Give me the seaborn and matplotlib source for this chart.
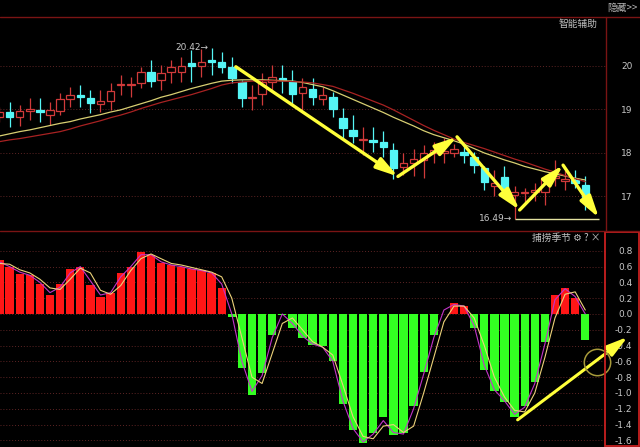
import numpy as np
import pandas as pd
import matplotlib
matplotlib.use('Agg')
import matplotlib.pyplot as plt
import seaborn as sns
from matplotlib.patches import Rectangle
from matplotlib.lines import Line2D

# candle data, one entry per trading day (index 0..58)
opens = [18.82, 18.95, 18.82, 18.97, 18.99, 18.87, 18.97, 19.23, 19.32, 19.26,
         19.12, 19.20, 19.55, 19.55, 19.60, 19.87, 19.68, 19.85, 19.87, 20.06,
         20.00, 20.14, 20.08, 19.98, 19.64, 19.26, 19.35, 19.64, 19.72, 19.66,
         19.37, 19.46, 19.24, 19.29, 18.80, 18.53, 18.30, 18.30, 18.26, 18.07,
         17.67, 17.76, 17.84, 18.00, 18.01, 18.01, 18.02, 17.90, 17.65, 17.23,
         17.44, 17.03, 17.07, 17.11, 17.11, 17.42, 17.36, 17.38, 17.26]
closes = [18.95, 18.83, 18.97, 19.01, 18.93, 18.99, 19.23, 19.33, 19.28, 19.14,
          19.20, 19.43, 19.56, 19.59, 19.86, 19.66, 19.83, 19.97, 20.00, 20.00,
          20.10, 20.09, 19.98, 19.72, 19.26, 19.29, 19.64, 19.75, 19.68, 19.35,
          19.51, 19.28, 19.33, 19.00, 18.57, 18.40, 18.32, 18.26, 18.14, 17.65,
          17.76, 17.86, 18.01, 18.07, 18.05, 18.09, 17.95, 17.72, 17.34, 17.30,
          17.15, 17.11, 17.11, 17.15, 17.42, 17.46, 17.40, 17.32, 16.88]
highs = [19.05, 19.18, 19.10, 19.26, 19.26, 19.18, 19.37, 19.52, 19.56, 19.45,
         19.45, 19.60, 19.79, 19.75, 19.98, 20.14, 20.02, 20.14, 20.21, 20.37,
         20.38, 20.42, 20.33, 20.20, 19.68, 19.56, 19.83, 20.02, 20.02, 19.91,
         19.72, 19.72, 19.52, 19.41, 19.03, 18.87, 18.60, 18.60, 18.51, 18.22,
         17.99, 18.09, 18.18, 18.26, 18.34, 18.20, 18.23, 18.03, 17.69, 17.61,
         17.69, 17.23, 17.20, 17.30, 17.49, 17.84, 17.61, 17.60, 17.46]
lows = [18.70, 18.60, 18.62, 18.76, 18.72, 18.64, 18.87, 19.06, 19.06, 18.91,
        18.95, 18.99, 19.33, 19.29, 19.49, 19.52, 19.45, 19.60, 19.62, 19.64,
        19.75, 19.80, 19.83, 19.60, 19.06, 18.99, 19.10, 19.45, 19.38, 19.10,
        18.99, 19.10, 19.10, 18.83, 18.34, 18.22, 17.95, 18.03, 17.91, 17.40,
        17.49, 17.46, 17.43, 17.76, 17.77, 17.90, 17.76, 17.53, 17.15, 17.00,
        16.96, 16.49, 16.85, 16.90, 16.80, 17.23, 17.15, 17.20, 16.69]

# moving averages
ma_short = [18.39, 18.44, 18.49, 18.53, 18.58, 18.63, 18.68, 18.72, 18.78, 18.83,
            18.88, 18.94, 18.99, 19.06, 19.13, 19.20, 19.28, 19.34, 19.41, 19.48,
            19.54, 19.60, 19.65, 19.67, 19.68, 19.68, 19.68, 19.67, 19.66, 19.65,
            19.62, 19.57, 19.52, 19.43, 19.33, 19.23, 19.13, 19.03, 18.93, 18.82,
            18.72, 18.62, 18.51, 18.42, 18.35, 18.28, 18.20, 18.10, 18.00, 17.92,
            17.84, 17.77, 17.69, 17.63, 17.57, 17.52, 17.47, 17.42, 17.38]
ma_long = [18.26, 18.30, 18.33, 18.37, 18.41, 18.45, 18.49, 18.55, 18.62, 18.68,
           18.74, 18.81, 18.87, 18.94, 19.02, 19.09, 19.16, 19.22, 19.28, 19.34,
           19.41, 19.48, 19.56, 19.61, 19.63, 19.65, 19.66, 19.66, 19.65, 19.64,
           19.63, 19.61, 19.57, 19.53, 19.45, 19.37, 19.28, 19.19, 19.10, 18.99,
           18.87, 18.75, 18.63, 18.52, 18.42, 18.32, 18.24, 18.17, 18.10, 18.02,
           17.94, 17.86, 17.79, 17.71, 17.63, 17.56, 17.48, 17.41, 17.34]

# indicator panel ("捕捞季节")
osc = [0.68, 0.60, 0.51, 0.49, 0.38, 0.24, 0.38, 0.57, 0.60, 0.37,
       0.21, 0.27, 0.52, 0.60, 0.78, 0.75, 0.64, 0.62, 0.60, 0.565,
       0.555, 0.52, 0.33, -0.04, -0.68, -1.02, -0.75, -0.27, -0.01, -0.18,
       -0.31, -0.39, -0.41, -0.60, -1.14, -1.47, -1.63, -1.51, -1.30, -1.53,
       -1.51, -1.16, -0.74, -0.27, 0.0, 0.14, 0.10, -0.18, -0.71, -0.98,
       -1.12, -1.30, -1.17, -0.86, -0.35, 0.24, 0.33, 0.20, -0.33]
osc_yellow = [0.64, 0.63, 0.56, 0.52, 0.44, 0.33, 0.31, 0.44, 0.58, 0.52,
              0.30, 0.25, 0.36, 0.55, 0.70, 0.76, 0.70, 0.64, 0.62, 0.59,
              0.56, 0.53, 0.47, 0.20, -0.30, -0.80, -0.88, -0.50, -0.12, -0.05,
              -0.20, -0.35, -0.42, -0.52, -0.90, -1.30, -1.55, -1.58, -1.42, -1.40,
              -1.50, -1.42, -1.00, -0.55, -0.10, 0.10, 0.10, -0.05, -0.40, -0.80,
              -1.05, -1.22, -1.24, -1.00, -0.55, -0.05, 0.25, 0.28, 0.05]
osc_magenta = [0.66, 0.60, 0.53, 0.49, 0.40, 0.27, 0.34, 0.52, 0.60, 0.42,
               0.24, 0.27, 0.47, 0.60, 0.75, 0.75, 0.66, 0.62, 0.60, 0.57,
               0.55, 0.52, 0.38, 0.00, -0.60, -0.98, -0.78, -0.30, 0.00, -0.12,
               -0.28, -0.38, -0.42, -0.60, -1.10, -1.45, -1.62, -1.52, -1.35, -1.50,
               -1.52, -1.20, -0.76, -0.30, 0.05, 0.12, 0.10, -0.15, -0.65, -0.96,
               -1.10, -1.27, -1.18, -0.88, -0.38, 0.18, 0.32, 0.22, 0.00]

price_ticks = [17, 18, 19, 20]
osc_ticks = [0.8, 0.6, 0.4, 0.2, 0.0, -0.2, -0.4, -0.6, -0.8, -1.0, -1.2, -1.4, -1.6]

# hand-drawn zigzag arrows on the price panel (day index, price)
zigzag = [(23.4, 19.98), (39.45, 17.46), (45.3, 18.37), (51.5, 16.69), (55.8, 17.72), (59.35, 16.51)]

df = pd.DataFrame({'day': np.arange(len(opens)), 'open': opens, 'close': closes,
                   'high': highs, 'low': lows, 'ma5': ma_short, 'ma10': ma_long,
                   'osc': osc, 'osc_y': osc_yellow, 'osc_m': osc_magenta})
df['dir'] = np.where(df['close'] >= df['open'], 'up', 'down')
df['sign'] = np.where(df['osc'] >= 0, 'pos', 'neg')

sns.set_theme(style='dark', rc={'axes.facecolor': 'black', 'figure.facecolor': 'black',
                                'axes.unicode_minus': False})
plt.rcParams['font.family'] = ['Noto Sans CJK SC', 'DejaVu Sans']

W, H = 640, 447
fig = plt.figure(figsize=(6.4, 4.47), dpi=100, facecolor='black')
ax1 = fig.add_axes([0, 1 - 230 / H, 606 / W, (230 - 18) / H])
ax2 = fig.add_axes([0, 0, 606 / W, (H - 232) / H])

grid_kw = dict(color='#5e2424', linestyle=(0, (1, 2)), linewidth=0.7)
label_color = '#c8c8c8'
arrow_style = '-|>,head_length=1.0,head_width=0.28'

# price panel
up_col, down_col = '#d03a3a', '#55f5f5'
wick_cols = [up_col if d == 'up' else down_col for d in df['dir']]
ax1.vlines(df['day'], df['low'], df['high'], colors=wick_cols, linewidth=0.9, zorder=2)
body_h = np.maximum((df['close'] - df['open']).abs(), 0.025)
body_b = np.minimum(df['open'], df['close'])
face = ['black' if d == 'up' else down_col for d in df['dir']]
ax1.bar(df['day'], body_h, bottom=body_b, width=0.74, color=face,
        edgecolor=wick_cols, linewidth=0.9, zorder=3)

sns.lineplot(data=df, x='day', y='ma5', color='#d8cf72', linewidth=0.9, ax=ax1, zorder=4)
sns.lineplot(data=df, x='day', y='ma10', color='#a82222', linewidth=0.9, ax=ax1, zorder=4)

for (x0, y0), (x1, y1) in zip(zigzag[:-1], zigzag[1:]):
    ax1.annotate('', xy=(x1, y1), xytext=(x0, y0), zorder=6, annotation_clip=False,
                 arrowprops=dict(arrowstyle=arrow_style, color='#ffff3a', lw=2.4,
                                 shrinkA=0, shrinkB=0, mutation_scale=13))

low_day = int(df['low'].idxmin())
ax1.hlines(df['low'].min(), low_day, 59.4, color='#e4e2a0', linewidth=1.0, zorder=5)
ax1.annotate(f"{df['low'].min():.2f}→", xy=(low_day - 0.2, df['low'].min()), ha='right',
             va='center', color=label_color, fontsize=6.5, family=['DejaVu Sans'])
high_day = int(df['high'].idxmax())
ax1.annotate(f"{df['high'].max():.2f}→", xy=(high_day - 0.3, df['high'].max()), ha='right',
             va='center', color=label_color, fontsize=6.5, family=['DejaVu Sans'])

ax1.set_xlim(0.05, 60.05)
ax1.set_ylim(16.23, 21.10)
ax1.set_yticks(price_ticks)
ax1.set_yticklabels([str(t) for t in price_ticks])

# indicator panel
sns.barplot(data=df, x='day', y='osc', hue='sign', native_scale=True, dodge=False,
            palette={'pos': '#ff1616', 'neg': '#33ff22'}, saturation=1, width=0.82,
            linewidth=0, legend=False, ax=ax2, zorder=2)
sns.lineplot(data=df, x='day', y='osc_m', color='#c235c8', linewidth=0.8, ax=ax2, zorder=3)
sns.lineplot(data=df, x='day', y='osc_y', color='#ecd27a', linewidth=0.8, ax=ax2, zorder=4)

ax2.annotate('', xy=(62.2, -0.29), xytext=(51.3, -1.34), zorder=6, annotation_clip=False,
             arrowprops=dict(arrowstyle=arrow_style, color='#ffff3a', lw=2.2,
                             shrinkA=0, shrinkB=0, mutation_scale=13))
ax2.plot([59.16], [-0.61], marker='o', markersize=19, markerfacecolor='none',
         markeredgecolor='#a89a3a', markeredgewidth=1.1, clip_on=False, zorder=6)

ax2.set_xlim(0.05, 60.05)
ax2.set_ylim(-1.684, 1.038)
ax2.set_yticks(osc_ticks)
ax2.set_yticklabels([f'{t:.1f}' for t in osc_ticks])

for ax in (ax1, ax2):
    ax.set_facecolor('black')
    ax.set_xlabel('')
    ax.set_ylabel('')
    ax.set_xticks([])
    for s in ax.spines.values():
        s.set_visible(False)
    ax.yaxis.tick_right()
    ax.tick_params(axis='y', length=0, pad=19, labelsize=6.5, labelcolor=label_color)
    for lab in ax.get_yticklabels():
        lab.set_horizontalalignment('right')
        lab.set_family(['DejaVu Sans'])
    ax.grid(axis='y', **grid_kw)
    ax.grid(axis='x', visible=False)
    ax.set_axisbelow(True)

# frame lines and panel titles
fig.add_artist(Line2D([0, 1], [1 - 17 / H, 1 - 17 / H], color='#7a1414', lw=1.0))
fig.add_artist(Line2D([0, 1], [1 - 231 / H, 1 - 231 / H], color='#7a1414', lw=1.0))
fig.add_artist(Line2D([606 / W, 606 / W], [1 - 231 / H, 1 - 17 / H], color='#7a1414', lw=1.0))
fig.add_artist(Rectangle((605 / W, 0.002), 34 / W, (H - 233) / H, fill=False,
                         edgecolor='#c82020', lw=1.3))
fig.text(637 / W, 1 - 8 / H, '隐藏>>', ha='right', va='center', color='#b8b8b8', fontsize=7)
fig.text(598 / W, 1 - 24 / H, '智能辅助', ha='right', va='center', color='#c0c0c0', fontsize=7)
fig.text(600 / W, 1 - 238 / H, '捕捞季节 ⚙ ? ×', ha='right', va='center', color='#c0c0c0',
         fontsize=7, family=['Noto Sans CJK SC', 'DejaVu Sans'])

fig.savefig('out.png', dpi=100, facecolor='black')
